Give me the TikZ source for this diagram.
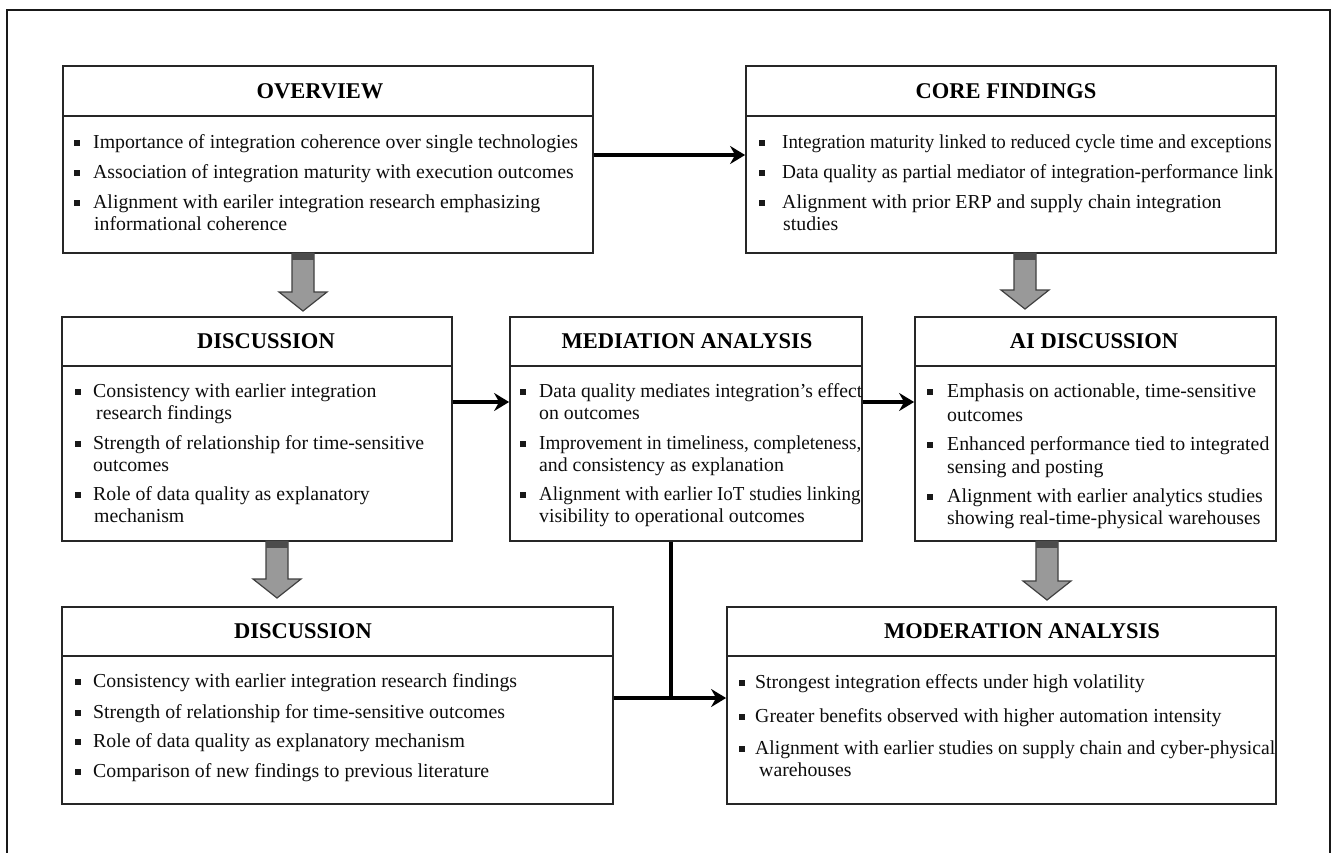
\documentclass[tikz,border=0pt]{standalone}
\usepackage{graphicx}
\usepackage{fontspec}
\setmainfont{Liberation Serif}
\usetikzlibrary{arrows.meta}
\tikzset{
  box/.style={draw=black!85, line width=1.8pt, fill=white, inner sep=0pt},
  divider/.style={draw=black!85, line width=1.8pt},
  ttl/.style={font=\fontsize{22.5}{26}\selectfont\bfseries, text=black, anchor=base, inner sep=0pt},
  body/.style={font=\fontsize{19.8}{22}\selectfont, text=black!95, anchor=base west, inner sep=0pt},
  bsq/.style={fill=black!90, minimum size=5.5pt, inner sep=0pt, draw=none},
  conn/.style={line width=3.6pt, draw=black, -{Stealth[length=15pt,width=18pt,inset=5pt]}},
  plainconn/.style={line width=3.6pt, draw=black},
  garrow/.style={fill=black!40, draw=black!75, line width=1.2pt, line join=miter},
  frame/.style={line width=1.4pt, draw=black!90},
}
\newcommand{\bodyline}[4]{\node[body] (#1) at (#2,#3) {#4};}
\newcommand{\bulletat}[3]{\node[bsq] (#1) at (#2,{#3-5}) {};}
\newcommand{\sqz}[2]{\scalebox{#1}[1]{#2}}
\newcommand{\blockarrow}[3]{%
  \draw[garrow] ({#1-11},#2) -- ({#1+11},#2) -- ({#1+11},{#3-19}) -- ({#1+24},{#3-19}) -- (#1,#3) -- ({#1-24},{#3-19}) -- ({#1-11},{#3-19}) -- cycle;
  \fill[black!70] ({#1-11},#2) rectangle ({#1+11},{#2+7});}
\begin{document}
\begin{tikzpicture}[x=1pt,y=-1pt]
\fill[white] (0,0) rectangle (1336,852);
\useasboundingbox (0,0) rectangle (1336,852);
\draw[frame] (7,870) -- (7,10) -- (1330,10) -- (1330,870);

% boxes
\node[box, minimum width=530pt, minimum height=187pt] (ov) at (328,159.5) {};
\node[box, minimum width=530pt, minimum height=187pt] (cf) at (1011,159.5) {};
\node[box, minimum width=390pt, minimum height=224pt] (ds) at (257,429) {};
\node[box, minimum width=352pt, minimum height=224pt] (md) at (686,429) {};
\node[box, minimum width=361pt, minimum height=224pt] (ai) at (1095.5,429) {};
\node[box, minimum width=551pt, minimum height=197pt] (d2) at (337.5,705.5) {};
\node[box, minimum width=549pt, minimum height=197pt] (mo) at (1001.5,705.5) {};

% dividers
\draw[divider] ([yshift=-51pt]ov.north west) -- ([yshift=-51pt]ov.north east);
\draw[divider] ([yshift=-51pt]cf.north west) -- ([yshift=-51pt]cf.north east);
\draw[divider] ([yshift=-50pt]ds.north west) -- ([yshift=-50pt]ds.north east);
\draw[divider] ([yshift=-50pt]md.north west) -- ([yshift=-50pt]md.north east);
\draw[divider] ([yshift=-50pt]ai.north west) -- ([yshift=-50pt]ai.north east);
\draw[divider] ([yshift=-50pt]d2.north west) -- ([yshift=-50pt]d2.north east);
\draw[divider] ([yshift=-50pt]mo.north west) -- ([yshift=-50pt]mo.north east);

% titles
\node[ttl] (ovt) at (320,98) {OVERVIEW};
\node[ttl] (cft) at (1006,98) {CORE FINDINGS};
\node[ttl] (dst) at (266,348) {DISCUSSION};
\node[ttl] (mdt) at (687,348) {MEDIATION ANALYSIS};
\node[ttl] (ait) at (1094,348) {AI DISCUSSION};
\node[ttl] (d2t) at (303,638) {DISCUSSION};
\node[ttl] (mot) at (1022,638) {MODERATION ANALYSIS};

% OVERVIEW
\bulletat{ovb1}{77}{148}\bodyline{ov1}{93}{148}{Importance of integration coherence over single technologies}
\bulletat{ovb2}{77}{178}\bodyline{ov2}{93}{178}{Association of integration maturity with execution outcomes}
\bulletat{ovb3}{77}{208}\bodyline{ov3}{93}{208}{Alignment with eariler integration research emphasizing}
\bodyline{ov4}{94}{230}{informational coherence}

% CORE FINDINGS
\bulletat{cfb1}{762}{148}\bodyline{cf1}{782}{148}{\sqz{0.957}{Integration maturity linked to reduced cycle time and exceptions}}
\bulletat{cfb2}{762}{178}\bodyline{cf2}{782}{178}{\sqz{0.974}{Data quality as partial mediator of integration-performance link}}
\bulletat{cfb3}{762}{208}\bodyline{cf3}{782}{208}{Alignment with prior ERP and supply chain integration}
\bodyline{cf4}{783}{230}{studies}

% DISCUSSION (middle)
\bulletat{dsb1}{78}{397}\bodyline{ds1}{93}{397}{Consistency with earlier integration}
\bodyline{ds2}{96}{419}{research findings}
\bulletat{dsb2}{78}{449}\bodyline{ds3}{93}{449}{Strength of relationship for time-sensitive}
\bodyline{ds4}{93}{471}{outcomes}
\bulletat{dsb3}{78}{500}\bodyline{ds5}{93}{500}{Role of data quality as explanatory}
\bodyline{ds6}{94}{522}{mechanism}

% MEDIATION ANALYSIS
\bulletat{mdb1}{523}{397}\bodyline{md1}{539}{397}{\sqz{0.99}{Data quality mediates integration’s effect}}
\bodyline{md2}{539}{419}{on outcomes}
\bulletat{mdb2}{523}{449}\bodyline{md3}{539}{449}{\sqz{0.965}{Improvement in timeliness, completeness,}}
\bodyline{md4}{539}{471}{and consistency as explanation}
\bulletat{mdb3}{523}{500}\bodyline{md5}{539}{500}{\sqz{0.96}{Alignment with earlier IoT studies linking}}
\bodyline{md6}{539}{522}{visibility to operational outcomes}

% AI DISCUSSION
\bulletat{aib1}{930}{397}\bodyline{ai1}{947}{397}{Emphasis on actionable, time-sensitive}
\bodyline{ai2}{947}{421}{outcomes}
\bulletat{aib2}{930}{450}\bodyline{ai3}{947}{450}{Enhanced performance tied to integrated}
\bodyline{ai4}{947}{473}{sensing and posting}
\bulletat{aib3}{930}{502}\bodyline{ai5}{947}{502}{Alignment with earlier analytics studies}
\bodyline{ai6}{947}{524}{showing real-time-physical warehouses}

% DISCUSSION (bottom)
\bulletat{d2b1}{78}{687}\bodyline{d21}{93}{687}{Consistency with earlier integration research findings}
\bulletat{d2b2}{78}{718}\bodyline{d22}{93}{718}{Strength of relationship for time-sensitive outcomes}
\bulletat{d2b3}{78}{747}\bodyline{d23}{93}{747}{Role of data quality as explanatory mechanism}
\bulletat{d2b4}{78}{777}\bodyline{d24}{93}{777}{Comparison of new findings to previous literature}

% MODERATION ANALYSIS
\bulletat{mob1}{742}{688}\bodyline{mo1}{755}{688}{Strongest integration effects under high volatility}
\bulletat{mob2}{742}{722}\bodyline{mo2}{755}{722}{Greater benefits observed with higher automation intensity}
\bulletat{mob3}{742}{754}\bodyline{mo3}{755}{754}{\sqz{0.99}{Alignment with earlier studies on supply chain and cyber-physical}}
\bodyline{mo4}{759}{776}{warehouses}

% connectors
\coordinate (h1) at (0,155);
\coordinate (h2) at (0,402);
\coordinate (h3) at (671,698);
\draw[conn] (ov.east |- h1) -- (cf.west |- h1);
\draw[conn] (ds.east |- h2) -- (md.west |- h2);
\draw[conn] (md.east |- h2) -- (ai.west |- h2);
\draw[plainconn] (md.south -| h3) -- (h3);
\draw[conn] (d2.east |- h3) -- (mo.west |- h3);

% block arrows
\blockarrow{303}{253}{311}
\blockarrow{1025}{253}{309}
\blockarrow{277}{541}{598}
\blockarrow{1047}{541}{600}
\end{tikzpicture}
\end{document}
